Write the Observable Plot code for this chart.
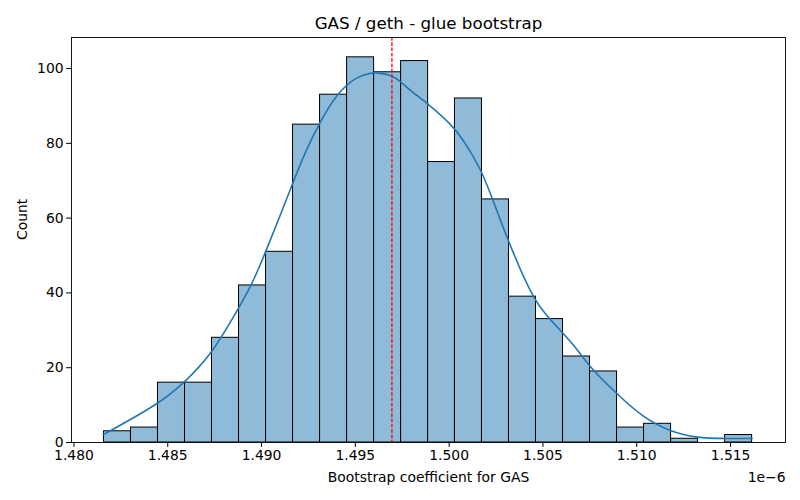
<!DOCTYPE html>
<html>
<head>
<meta charset="utf-8">
<script src="https://cdn.jsdelivr.net/npm/d3@7"></script>
<script src="https://cdn.jsdelivr.net/npm/@observablehq/plot@0.6"></script>
<style>
  html, body { margin: 0; padding: 0; background: white; }
</style>
</head>
<body>
<div id="chart"></div>
<script>
// Values of x are in units of 1e-6
const binEdges = [1.48160, 1.48304, 1.48448, 1.48592, 1.48736, 1.48880, 1.49024, 1.49168,
  1.49312, 1.49456, 1.49600, 1.49744, 1.49888, 1.50031, 1.50175, 1.50319, 1.50463,
  1.50607, 1.50751, 1.50895, 1.51039, 1.51183, 1.51327, 1.51471, 1.51615];
const counts = [3, 4, 16, 16, 28, 42, 51, 85, 93, 103, 99, 102, 75, 92, 65, 39, 33, 23, 19, 4, 5, 1, 0, 2];

const kdeX = [1.48156, 1.48443, 1.48590, 1.48736, 1.48851, 1.48948, 1.49023, 1.49166,
  1.49237, 1.49312, 1.49400, 1.49507, 1.49586, 1.49631, 1.49693, 1.49746, 1.49790, 1.49887,
  1.50029, 1.50109, 1.50171, 1.50233, 1.50322, 1.50455, 1.50534, 1.50676, 1.50747, 1.50892,
  1.51030, 1.51181, 1.51323, 1.51465, 1.51615];
const kdeY = [2.1, 10.0, 16.0, 23.8, 33.6, 42.1, 51.0, 69.3,
  78.2, 85.7, 93.3, 97.9, 98.9, 98.8, 98.2, 96.4, 94.2, 90.6,
  84.4, 78.2, 72.8, 65.0, 52.8, 37.6, 33.1, 25.6, 20.2, 13.1,
  6.8, 2.8, 1.2, 1.07, 1.07];

const refLine = 1.49695;
const xTicks = [1.480, 1.485, 1.490, 1.495, 1.500, 1.505, 1.510, 1.515];
const yTicks = [0, 20, 40, 60, 80, 100];

const titleText = "GAS / geth - glue bootstrap";
const xLabel = "Bootstrap coefficient for GAS";
const yLabel = "Count";
const offsetText = "1e\u22126";

const bins = counts.map((c, i) => ({x1: binEdges[i], x2: binEdges[i + 1], y: c})).filter(d => d.y > 0);
const kde = kdeX.map((x, i) => ({x, y: kdeY[i]}));

const chart = Plot.plot({
  width: 800,
  height: 500,
  marginLeft: 71,
  marginRight: 15,
  marginTop: 37,
  marginBottom: 58,
  style: {fontFamily: "DejaVu Sans", fontSize: "13.9px", color: "black", background: "white"},
  x: {domain: [1.47987, 1.51793]},
  y: {domain: [0, 108.3]},
  marks: [
    Plot.rectY(bins, {x1: "x1", x2: "x2", y: "y", fill: "#8fbbd9", stroke: "black", strokeWidth: 1, inset: 0}),
    Plot.line(kde, {x: "x", y: "y", stroke: "#1f77b4", strokeWidth: 1.6, curve: "basis"}),
    Plot.ruleX([refLine], {stroke: "red", strokeWidth: 1.3, strokeDasharray: "3.7,1.6"}),
    Plot.frame({stroke: "black", strokeWidth: 0.9}),
    Plot.axisX({ticks: xTicks, tickSize: 4.9, tickPadding: 3, tickFormat: d => d.toFixed(3), label: null}),
    Plot.axisY({ticks: yTicks, tickSize: 4.9, tickPadding: 3, tickFormat: d => String(d), label: null}),
    Plot.text([titleText], {frameAnchor: "top", dy: -14, fontSize: 16.7, text: d => d, lineAnchor: "middle"}),
    Plot.text([xLabel], {frameAnchor: "bottom", dy: 35, text: d => d, lineAnchor: "middle"}),
    Plot.text([offsetText], {frameAnchor: "bottom-right", dy: 35, text: d => d, textAnchor: "end", lineAnchor: "middle"}),
    Plot.text([yLabel], {frameAnchor: "left", dx: -49, rotate: -90, text: d => d, lineAnchor: "middle"})
  ]
});
document.getElementById("chart").appendChild(chart);
</script>
</body>
</html>
